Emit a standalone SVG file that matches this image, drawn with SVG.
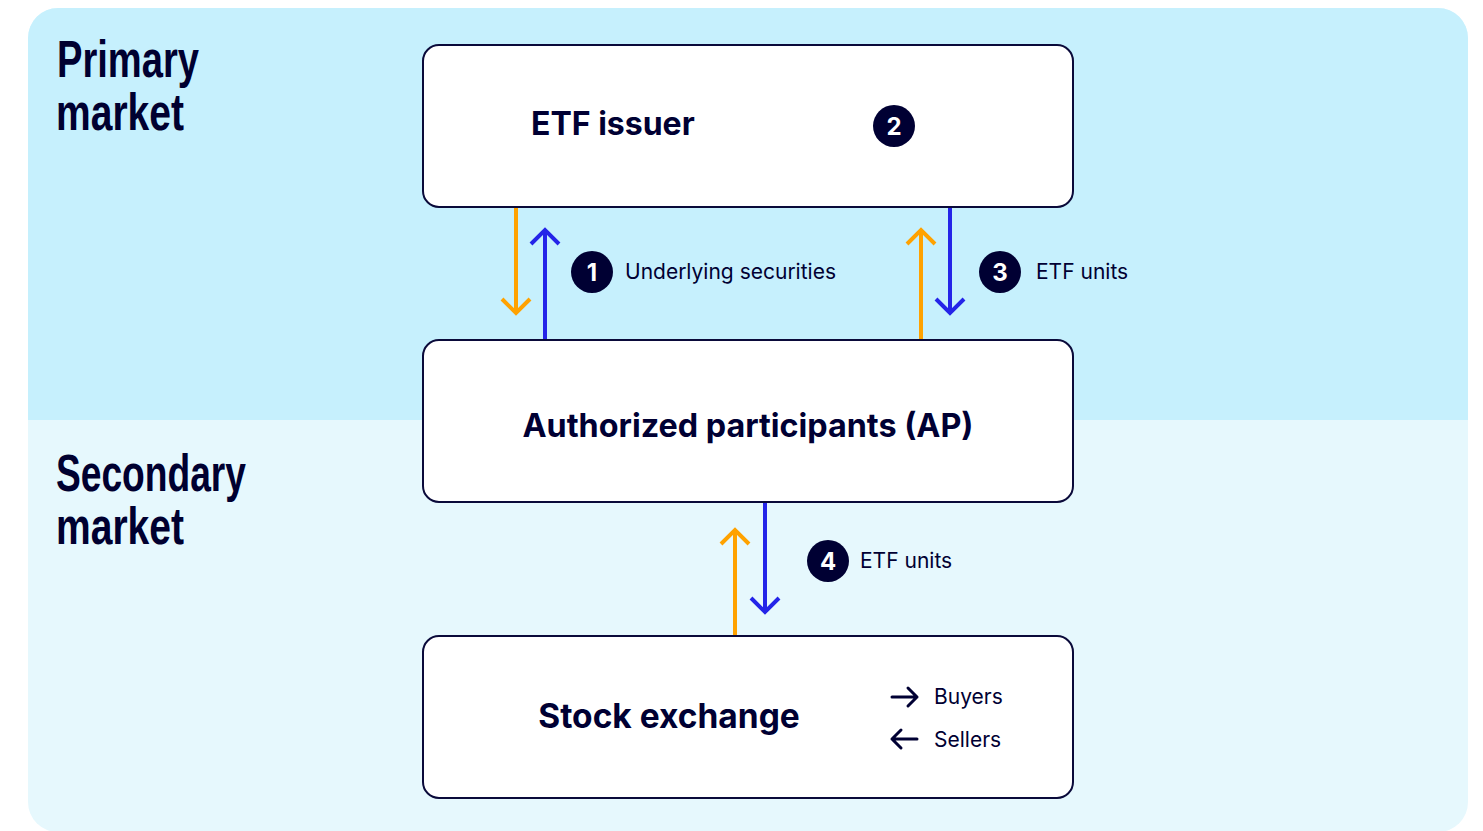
<svg xmlns="http://www.w3.org/2000/svg" width="1483" height="831" viewBox="0 0 1483 831">
<defs>
<style>
.box{fill:#fff;stroke:#0a0a3a;stroke-width:2}
.title{font-family:Inter,"Liberation Sans",sans-serif;font-weight:700;fill:#000033}
.lbl{font-family:Inter,"Liberation Sans",sans-serif;font-size:21px;fill:#000033}
.head{font-family:"Liberation Sans",sans-serif;font-weight:700;font-size:52px;fill:#000030}
.badge{fill:#000033}
.bnum{font-family:Inter,"Liberation Sans",sans-serif;font-weight:700;font-size:24px;fill:#fff;text-anchor:middle}
.org{stroke:#FFA200;stroke-width:4;fill:none}
.blu{stroke:#2424E8;stroke-width:4;fill:none}
.dk{stroke:#000033;stroke-width:3;fill:none;stroke-linecap:round;stroke-linejoin:round}
</style>
</defs>
<rect x="0" y="0" width="1483" height="831" fill="#fff"/>
<g id="panels">
<rect x="28" y="8" width="1440" height="824" rx="30" fill="#E6F8FD"/>
<path d="M28 420 V38 A30 30 0 0 1 58 8 H1438 A30 30 0 0 1 1468 38 V420 Z" fill="#C6F0FD"/>
<text class="head" x="57" y="77" textLength="142" lengthAdjust="spacingAndGlyphs">Primary</text>
<text class="head" x="56" y="130" textLength="128" lengthAdjust="spacingAndGlyphs">market</text>
<text class="head" x="56" y="491" textLength="190" lengthAdjust="spacingAndGlyphs">Secondary</text>
<text class="head" x="56" y="544" textLength="128" lengthAdjust="spacingAndGlyphs">market</text>
</g>
<g id="connectors">
<path class="org" d="M516 207 V313 M502 299 L516 313 L530 299"/>
<path class="blu" d="M545 340 V230 M531 244 L545 230 L559 244"/>
<path class="org" d="M921 340 V230 M907 244 L921 230 L935 244"/>
<path class="blu" d="M950 207 V313 M936 299 L950 313 L964 299"/>
<path class="org" d="M735 636 V530 M721 544 L735 530 L749 544"/>
<path class="blu" d="M765 502 V612 M751 598 L765 612 L779 598"/>
</g>
<g id="etf-issuer">
<rect class="box" x="423" y="45" width="650" height="162" rx="16"/>
<text class="title" x="531" y="135" font-size="32">ETF issuer</text>
<circle class="badge" cx="894" cy="126" r="21"/>
<text class="bnum" x="894" y="135">2</text>
</g>
<g id="ap">
<rect class="box" x="423" y="340" width="650" height="162" rx="16"/>
<text class="title" x="748" y="437" font-size="32.3" text-anchor="middle">Authorized participants (AP)</text>
</g>
<g id="stock-exchange">
<rect class="box" x="423" y="636" width="650" height="162" rx="16"/>
<text class="title" x="669" y="728" font-size="33.5" text-anchor="middle">Stock exchange</text>
<path class="dk" d="M892 697 H917 M908 688 L917 697 L908 706"/>
<text class="lbl" x="934" y="704">Buyers</text>
<path class="dk" d="M917 739 H892 M901 730 L892 739 L901 748"/>
<text class="lbl" x="934" y="747">Sellers</text>
</g>
<g id="label-1">
<circle class="badge" cx="592" cy="272" r="21"/>
<text class="bnum" x="592" y="281">1</text>
<text class="lbl" x="625" y="279">Underlying securities</text>
</g>
<g id="label-3">
<circle class="badge" cx="1000" cy="272" r="21"/>
<text class="bnum" x="1000" y="281">3</text>
<text class="lbl" x="1036" y="279">ETF units</text>
</g>
<g id="label-4">
<circle class="badge" cx="828" cy="561" r="21"/>
<text class="bnum" x="828" y="570">4</text>
<text class="lbl" x="860" y="568">ETF units</text>
</g>
</svg>
